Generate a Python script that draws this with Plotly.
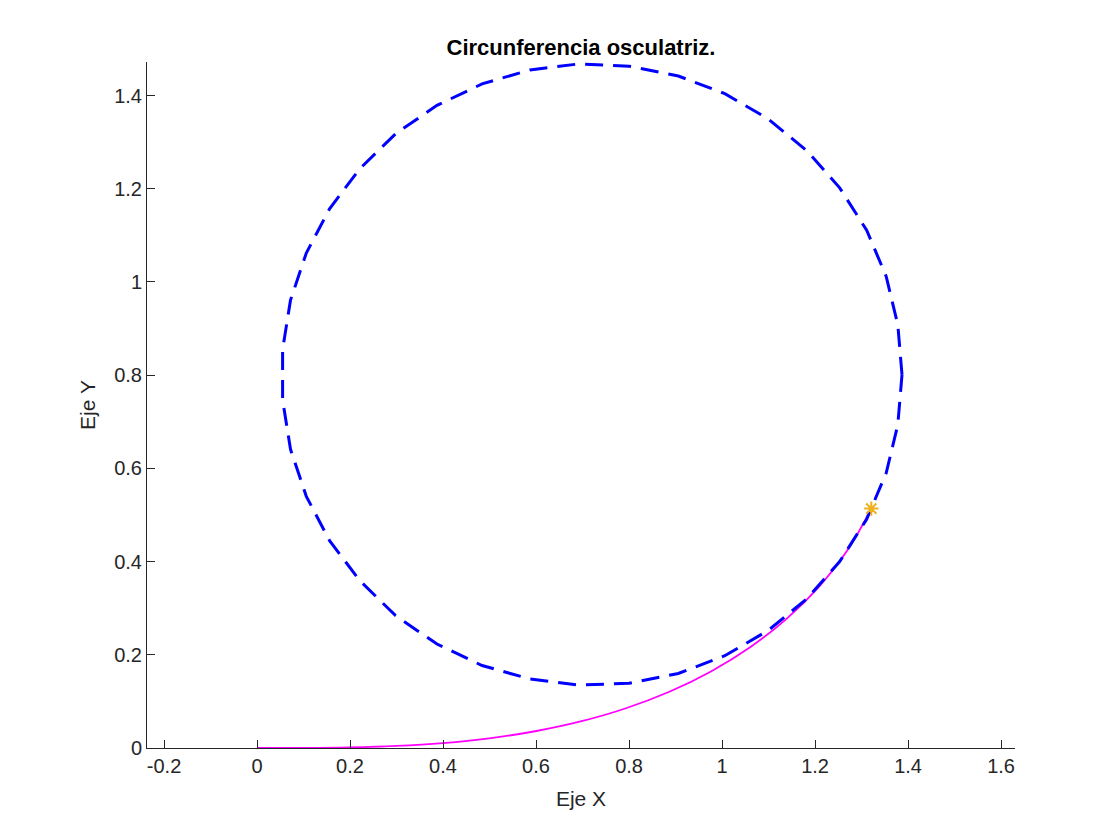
import plotly.graph_objects as go

# Magenta curve
curve_x = [0.0, 0.1, 0.19999, 0.29994, 0.39974, 0.49922, 0.59806, 0.69581, 0.79185,
           0.88535, 0.97529, 1.06041, 1.13927, 1.21019, 1.27139, 1.32096]
curve_y = [0.0, 0.000167, 0.001333, 0.004499, 0.010662, 0.020810, 0.035917, 0.056922,
           0.084711, 0.120084, 0.163714, 0.2161, 0.27751, 0.347911, 0.426903, 0.513652]

# Osculating circle vertices
circle_x = [1.387, 1.378, 1.353, 1.311, 1.253, 1.182, 1.099, 1.006, 0.906, 0.800,
            0.693, 0.587, 0.484, 0.387, 0.298, 0.221, 0.156, 0.106, 0.072, 0.055,
            0.055, 0.072, 0.106, 0.156, 0.221, 0.298, 0.387, 0.484, 0.587, 0.693,
            0.800, 0.906, 1.006, 1.099, 1.182, 1.253, 1.311, 1.353, 1.378, 1.387]
circle_y = [0.801, 0.908, 1.012, 1.111, 1.202, 1.282, 1.350, 1.404, 1.442, 1.463,
            1.468, 1.455, 1.425, 1.379, 1.318, 1.243, 1.157, 1.062, 0.961, 0.855,
            0.747, 0.641, 0.540, 0.445, 0.359, 0.284, 0.223, 0.177, 0.148, 0.135,
            0.139, 0.160, 0.198, 0.252, 0.320, 0.400, 0.491, 0.590, 0.694, 0.801]

# Point of tangency
point_x = [1.32096]
point_y = [0.513652]

x_ticks = [-0.2, 0, 0.2, 0.4, 0.6, 0.8, 1, 1.2, 1.4, 1.6]
x_ticklabels = ["-0.2", "0", "0.2", "0.4", "0.6", "0.8", "1", "1.2", "1.4", "1.6"]
y_ticks = [0, 0.2, 0.4, 0.6, 0.8, 1, 1.2, 1.4]
y_ticklabels = ["0", "0.2", "0.4", "0.6", "0.8", "1", "1.2", "1.4"]

FONT = "Liberation Sans, Arial, Helvetica, sans-serif"

fig = go.Figure()
fig.add_trace(go.Scatter(x=curve_x, y=curve_y, mode="lines",
                         line=dict(color="#FF00FF", width=1.8, shape="spline"),
                         showlegend=False, hoverinfo="skip"))
fig.add_trace(go.Scatter(x=circle_x, y=circle_y, mode="lines",
                         line=dict(color="#0000FF", width=3, dash="18px,10px"),
                         showlegend=False, hoverinfo="skip"))
fig.add_trace(go.Scatter(x=point_x, y=point_y, mode="markers",
                         marker=dict(symbol="asterisk-open", size=12, color="#EDB120",
                                     line=dict(color="#EDB120", width=2)),
                         showlegend=False, hoverinfo="skip"))

axis_common = dict(showgrid=False, zeroline=False, showline=True, linecolor="#262626",
                   linewidth=1, ticks="inside", ticklen=8, tickcolor="#262626",
                   tickfont=dict(family=FONT, size=20, color="#262626"),
                   mirror=False)

fig.update_layout(
    width=1120, height=840,
    margin=dict(l=139, r=113, t=54, b=100),
    paper_bgcolor="white", plot_bgcolor="white",
    title=dict(text="<b>Circunferencia osculatriz.</b>", x=(581 - 8) / 1120, xanchor="center",
               y=1 - 39 / 840, yanchor="middle",
               font=dict(family=FONT, size=22, color="black")),
    xaxis=dict(range=[-0.2366, 1.630], tickvals=x_ticks, ticktext=x_ticklabels,
               title=dict(text="Eje X", standoff=15,
                          font=dict(family=FONT, size=21, color="#262626")),
               **axis_common),
    yaxis=dict(range=[0, 1.472], tickvals=y_ticks, ticktext=y_ticklabels,
               title=dict(text="Eje Y", standoff=12,
                          font=dict(family=FONT, size=21, color="#262626")),
               **axis_common),
)

fig.write_html("out.html")
